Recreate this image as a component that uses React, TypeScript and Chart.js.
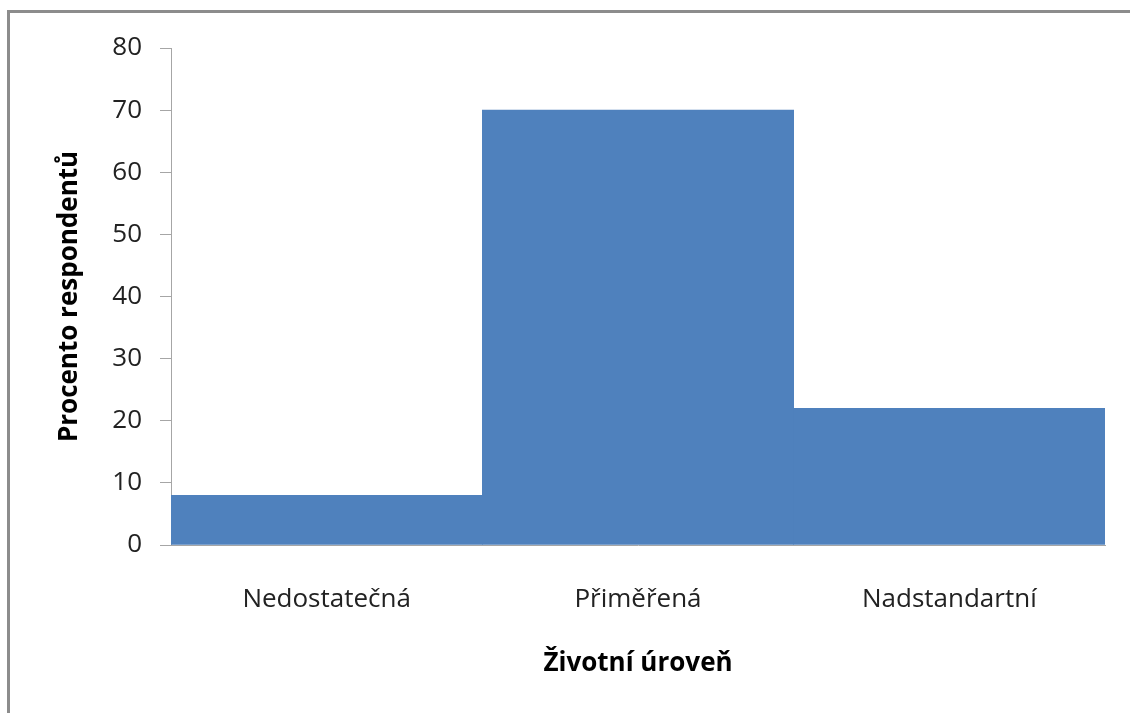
import React, { useEffect, useRef } from "react";
import { Chart, registerables } from "chart.js";

Chart.register(...registerables);

const categories = ["Nedostatečná", "Přiměřená", "Nadstandartní"];
const values = [8, 70, 22];
const yTitle = "Procento respondentů";
const xTitle = "Životní úroveň";

export default function App() {
  const ref = useRef<HTMLCanvasElement | null>(null);

  useEffect(() => {
    if (!ref.current) return;
    const font = "'Open Sans', 'Noto Sans', sans-serif";
    const chart = new Chart(ref.current, {
      type: "bar",
      data: {
        labels: categories,
        datasets: [
          {
            data: values,
            backgroundColor: "#4f81bd",
            borderWidth: 0,
            barPercentage: 1,
            categoryPercentage: 1,
          },
        ],
      },
      options: {
        animation: false,
        responsive: true,
        maintainAspectRatio: false,
        layout: { padding: { top: 48, right: 25, left: 0, bottom: 0 } },
        plugins: { legend: { display: false }, tooltip: { enabled: false } },
        scales: {
          x: {
            grid: { display: true, drawOnChartArea: false, drawTicks: false },
            border: { display: true, color: "#a6a6a6", width: 1 },
            ticks: { color: "#222", font: { family: font, size: 26 }, padding: 39 },
            title: {
              display: true,
              text: xTitle,
              color: "#000",
              font: { family: font, size: 26, weight: "bold" },
              padding: { top: 0, bottom: 34 },
            },
            afterFit: (s: any) => {
              s.height = 168;
            },
          },
          y: {
            min: 0,
            max: 80,
            ticks: {
              stepSize: 10,
              color: "#222",
              font: { family: font, size: 26 },
              padding: 18,
            },
            grid: {
              display: true,
              drawOnChartArea: false,
              drawTicks: true,
              tickLength: 11,
              color: "#a6a6a6",
            },
            border: { display: true, color: "#a6a6a6", width: 1 },
            title: {
              display: true,
              text: yTitle,
              color: "#000",
              font: { family: font, size: 26, weight: "bold" },
              padding: { top: 54, bottom: 0 },
            },
            afterFit: (s: any) => {
              s.width = 171;
            },
          },
        },
      },
    });
    return () => chart.destroy();
  }, []);

  return (
    <div style={{ position: "fixed", left: 0, top: 0, width: 1130, height: 713, background: "#fff" }}>
      <canvas ref={ref} />
      <div
        style={{
          position: "absolute",
          left: 7,
          top: 10,
          right: 0,
          bottom: 0,
          borderTop: "3px solid #8c8c8c",
          borderLeft: "3px solid #8c8c8c",
          pointerEvents: "none",
        }}
      />
    </div>
  );
}
